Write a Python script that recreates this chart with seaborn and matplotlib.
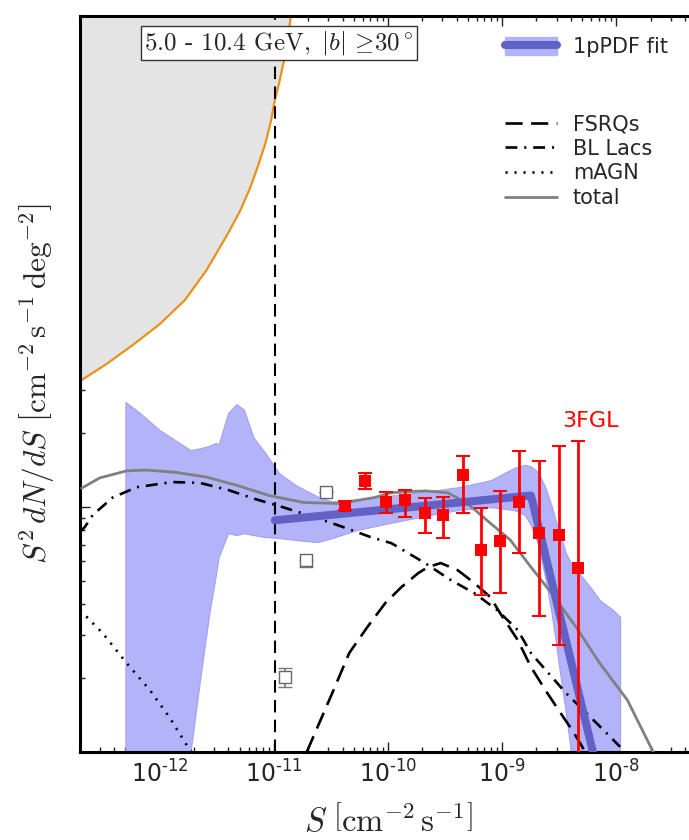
import numpy as np
import pandas as pd
import matplotlib
matplotlib.use("Agg")
import matplotlib.pyplot as plt
import seaborn as sns
from matplotlib.lines import Line2D
from matplotlib.patches import Patch
from matplotlib.ticker import FixedLocator, FixedFormatter, NullFormatter, LogLocator

# ---------------- data ----------------
excl_S = [2.0e-13, 3.40e-13, 5.8e-13, 1.0e-12, 1.66e-12, 2.57e-12, 3.96e-12, 5.04e-12, 6.24e-12, 7.26e-12,
          8.43e-12, 9.40e-12, 1.02e-11, 1.11e-11, 1.19e-11, 1.26e-11, 1.32e-11, 1.41e-11]
excl_y = [3.25e-11, 3.81e-11, 4.56e-11, 5.55e-11, 6.95e-11, 9.21e-11, 1.30e-10, 1.60e-10, 2.01e-10, 2.45e-10,
          3.03e-10, 3.71e-10, 4.55e-10, 5.32e-10, 6.19e-10, 6.93e-10, 7.76e-10, 1.01e-9]

threshold_S = 1.02e-11

band_S = [5.0e-13, 6.7e-13, 1.0e-12, 1.86e-12, 2.25e-12, 2.72e-12, 3.1e-12, 3.28e-12, 3.97e-12, 4.70e-12,
          5.47e-12, 6.60e-12, 8.44e-12, 1.11e-11, 1.57e-11, 2.41e-11, 3.25e-11, 5.32e-11, 1.07e-10, 2.11e-10,
          4.08e-10, 7.87e-10, 1.28e-9, 1.58e-9, 1.79e-9, 2.07e-9, 2.39e-9, 2.71e-9, 2.94e-9, 3.13e-9,
          3.62e-9, 4.01e-9, 4.74e-9, 6.21e-9, 7.17e-9, 9.40e-9, 1.08e-8]
band_hi = [2.67e-11, 2.41e-11, 2.05e-11, 1.70e-11, 1.73e-11, 1.77e-11, 1.82e-11, 1.79e-11, 2.41e-11, 2.62e-11,
           2.48e-11, 1.92e-11, 1.65e-11, 1.37e-11, 1.22e-11, 1.10e-11, 1.05e-11, 1.07e-11, 1.11e-11, 1.15e-11,
           1.20e-11, 1.28e-11, 1.44e-11, 1.48e-11, 1.46e-11, 1.38e-11, 1.20e-11, 1.01e-11, 8.82e-12, 8.03e-12,
           6.47e-12, 5.89e-12, 5.36e-12, 4.57e-12, 4.16e-12, 3.79e-12, 3.55e-12]
band_lo = [5e-13, 5e-13, 5e-13, 1.0e-12, 1.96e-12, 3.68e-12, 5.26e-12, 6.23e-12, 7.80e-12, 7.66e-12,
           7.80e-12, 7.66e-12, 7.52e-12, 7.45e-12, 7.31e-12, 7.17e-12, 7.45e-12, 8.03e-12, 8.6e-12, 9.16e-12,
           9.69e-12, 9.96e-12, 9.69e-12, 9.24e-12, 8.41e-12, 6.98e-12, 5.12e-12, 3.68e-12, 2.86e-12, 2.30e-12,
           1.44e-12, 1.0e-12, 5e-13, 5e-13, 5e-13, 5e-13, 5e-13]

fit_S = [1.02e-11, 1.79e-9, 6.6e-9]
fit_y = [8.8e-12, 1.11e-11, 9.0e-13]

total_S = [2.07e-13, 2.98e-13, 5.14e-13, 7.69e-13, 1.38e-12, 2.57e-12, 4.79e-12, 9.10e-12, 1.82e-11, 3.69e-11,
           7.65e-11, 1.07e-10, 2.11e-10, 3.34e-10, 4.98e-10, 7.87e-10, 1.18e-9, 1.79e-9, 2.71e-9, 4.45e-9,
           7.17e-9, 1.25e-8, 2.11e-8]
total_y = [1.19e-11, 1.31e-11, 1.40e-11, 1.41e-11, 1.38e-11, 1.32e-11, 1.22e-11, 1.11e-11, 1.04e-11, 1.03e-11,
           1.09e-11, 1.14e-11, 1.16e-11, 1.14e-11, 1.03e-11, 8.57e-12, 7.31e-12, 5.67e-12, 4.44e-12, 3.23e-12,
           2.30e-12, 1.63e-12, 1.0e-12]

bllac_S = [2.0e-13, 2.20e-13, 2.58e-13, 3.87e-13, 6.28e-13, 1.28e-12, 2.25e-12, 3.97e-12, 6.60e-12, 1.19e-11,
           2.26e-11, 4.29e-11, 7.02e-11, 1.07e-10, 2.11e-10, 3.55e-10, 5.72e-10, 9.05e-10, 1.37e-9, 1.79e-9,
           2.54e-9, 3.62e-9, 5.48e-9, 8.30e-9, 1.08e-8]
bllac_y = [7.9e-12, 8.25e-12, 9.24e-12, 1.09e-11, 1.20e-11, 1.26e-11, 1.25e-11, 1.17e-11, 1.08e-11, 9.96e-12,
           9.07e-12, 8.18e-12, 7.52e-12, 7.10e-12, 5.89e-12, 5.02e-12, 4.44e-12, 3.79e-12, 3.14e-12, 2.53e-12,
           2.10e-12, 1.74e-12, 1.44e-12, 1.19e-12, 1.05e-12]

fsrq_S = [1.94e-11, 3.25e-11, 4.57e-11, 6.59e-11, 9.48e-11, 1.31e-10, 1.84e-10, 2.24e-10, 2.90e-10, 4.08e-10,
          5.72e-10, 7.87e-10, 9.61e-10, 1.37e-9, 1.79e-9, 2.39e-9, 3.13e-9, 4.10e-9, 5.04e-9, 5.6e-9]
fsrq_y = [1.0e-12, 1.74e-12, 2.53e-12, 3.23e-12, 4.05e-12, 4.70e-12, 5.36e-12, 5.67e-12, 5.89e-12, 5.51e-12,
          4.88e-12, 4.28e-12, 3.68e-12, 2.86e-12, 2.22e-12, 1.79e-12, 1.48e-12, 1.23e-12, 1.05e-12, 9.5e-13]

magn_S = [2.0e-13, 3.16e-13, 5.14e-13, 8.17e-13, 1.21e-12, 1.76e-12, 1.9e-12]
magn_y = [3.79e-12, 3.05e-12, 2.30e-12, 1.79e-12, 1.39e-12, 1.05e-12, 1.0e-12]

fgl_S = [4.20e-11, 6.31e-11, 9.68e-11, 1.42e-10, 2.11e-10, 3.02e-10, 4.50e-10, 6.58e-10, 9.61e-10,
         1.42e-9, 2.11e-9, 3.13e-9, 4.64e-9]
fgl_y = [1.01e-11, 1.27e-11, 1.04e-11, 1.06e-11, 9.42e-12, 9.24e-12, 1.35e-11, 6.65e-12, 7.24e-12,
         1.04e-11, 7.80e-12, 7.66e-12, 5.62e-12]
fgl_hi = [1.05e-11, 1.37e-11, 1.15e-11, 1.17e-11, 1.08e-11, 1.10e-11, 1.61e-11, 9.87e-12, 1.16e-11,
          1.69e-11, 1.53e-11, 1.77e-11, 1.85e-11]
fgl_lo = [9.7e-12, 1.18e-11, 9.42e-12, 9.07e-12, 7.80e-12, 7.45e-12, 9.42e-12, 4.36e-12, 4.44e-12,
          6.47e-12, 3.58e-12, 2.73e-12, 5e-13]

open_S = [1.24e-11, 1.90e-11, 2.86e-11]
open_y = [2.02e-12, 6.06e-12, 1.15e-11]
open_hi = [2.20e-12, 6.06e-12, 1.15e-11]
open_lo = [1.84e-12, 5.70e-12, 1.15e-11]

xtick_values = [1e-12, 1e-11, 1e-10, 1e-9, 1e-8]
xtick_labels = [r'$10^{\text{-12}}$', r'$10^{\text{-11}}$', r'$10^{\text{-10}}$', r'$10^{\text{-9}}$', r'$10^{\text{-8}}$']

legend_fit = "1pPDF fit"
legend_lines = ["FSRQs", "BL Lacs", "mAGN", "total"]
label_3fgl = "3FGL"
box_text = r'$\text{5.0 - 10.4 GeV},\ |b|\,\geq\!30^\circ$'

# ---------------- style ----------------
sns.set_style("ticks")
plt.rcParams['font.family'] = ['DejaVu Sans']
plt.rcParams['mathtext.fontset'] = 'dejavusans'

band_color = '#b3b3fa'
fit_color = '#6262c6'
excl_face = '#e4e4e4'
excl_edge = '#e8921a'

fig = plt.figure(figsize=(6.89, 8.4), dpi=100)
W, H = 689.0, 840.0
ax = fig.add_axes([80 / W, 1 - 752 / H, 616 / W, 736 / H])
ax.set_xscale('log')
ax.set_yscale('log')
ax.set_xlim(2e-13, 5e-8)
ax.set_ylim(1e-12, 1e-9)

# excluded grey region
ax.fill_between(excl_S, excl_y, [2e-9] * len(excl_S), color=excl_face, lw=0, zorder=1)
sns.lineplot(x=excl_S, y=excl_y, ax=ax, color=excl_edge, lw=1.6, estimator=None, sort=False, zorder=2)

# 1pPDF band
ax.fill_between(band_S, band_lo, band_hi, color=band_color, lw=0.8, edgecolor='#a0a0f6', zorder=2)

# threshold
ax.axvline(threshold_S, color='black', lw=1.5, linestyle=(0, (6, 3.5)), zorder=3)

# model curves
sns.lineplot(x=magn_S, y=magn_y, ax=ax, color='black', lw=1.9, linestyle=(0, (0.8, 2.6)),
             estimator=None, sort=False, zorder=3)
sns.lineplot(x=fsrq_S, y=fsrq_y, ax=ax, color='black', lw=1.9, linestyle=(0, (6.5, 3.2)),
             estimator=None, sort=False, zorder=3)
sns.lineplot(x=bllac_S, y=bllac_y, ax=ax, color='black', lw=1.9, linestyle=(0, (4.5, 2.6, 0.8, 2.6)),
             estimator=None, sort=False, zorder=3)
sns.lineplot(x=total_S, y=total_y, ax=ax, color='#808080', lw=2.0, estimator=None, sort=False, zorder=4)

# 1pPDF best fit broken power law
sns.lineplot(x=fit_S, y=fit_y, ax=ax, color=fit_color, lw=5.8, estimator=None, sort=False, zorder=5)

# open squares
oy = np.array(open_y)
ax.errorbar(open_S, open_y, yerr=[oy - np.array(open_lo), np.array(open_hi) - oy], fmt='none',
            ecolor='#777777', elinewidth=1.2, capsize=5, capthick=1.0, zorder=6)
sns.scatterplot(x=open_S, y=open_y, ax=ax, marker='s', s=70, facecolor='white', edgecolor='#666666',
                linewidth=1.0, zorder=7)

# 3FGL
fy = np.array(fgl_y)
ax.errorbar(fgl_S, fgl_y, yerr=[fy - np.array(fgl_lo), np.array(fgl_hi) - fy], fmt='none',
            ecolor='red', elinewidth=2.0, capsize=5, capthick=1.5, zorder=6)
sns.scatterplot(x=fgl_S, y=fgl_y, ax=ax, marker='s', s=75, color='red', edgecolor='red',
                linewidth=0, zorder=7)
ax.text(0.8295, 0.4497, label_3fgl, transform=ax.transAxes, color='red', fontsize=16,
        ha='center', va='center', zorder=8)

# label box
ax.text(0.323, 0.963, box_text, transform=ax.transAxes, ha='center', va='center', fontsize=18,
        math_fontfamily='cm', zorder=10,
        bbox=dict(boxstyle='square,pad=0.12', fc='white', ec='#333333', lw=1.0))

# axes styling
ax.xaxis.set_major_locator(FixedLocator(xtick_values))
ax.xaxis.set_major_formatter(FixedFormatter(xtick_labels))
ax.xaxis.set_minor_locator(LogLocator(base=10, subs=np.arange(2, 10), numticks=20))
ax.xaxis.set_minor_formatter(NullFormatter())
ax.yaxis.set_major_formatter(NullFormatter())
ax.yaxis.set_minor_formatter(NullFormatter())
ax.tick_params(which='both', direction='in', top=True, right=False, width=1.0, color='#222222')
ax.tick_params(which='major', length=7, labelsize=17, pad=6)
ax.tick_params(which='minor', length=3.5)
for sp in ax.spines.values():
    sp.set_linewidth(2.2)
    sp.set_color('black')

ax.set_xlabel(r'$S\ \left[\mathrm{cm}^{-2}\,\mathrm{s}^{-1}\right]$', fontsize=23.5, math_fontfamily='cm',
              labelpad=12)
ax.set_ylabel(r'$S^2\,dN/dS\ \left[\mathrm{cm}^{-2}\,\mathrm{s}^{-1}\,\mathrm{deg}^{-2}\right]$', fontsize=22.5,
              math_fontfamily='cm', labelpad=11)

# legends
h_fit = (Patch(facecolor=band_color, edgecolor=band_color), Line2D([], [], color=fit_color, lw=5.8))
leg1 = ax.legend([h_fit], [legend_fit], loc='center left', bbox_to_anchor=(0.690, 0.958),
                 frameon=False, fontsize=15, borderpad=0, borderaxespad=0, handlelength=2.5,
                 handleheight=0.95, handletextpad=0.75)
ax.add_artist(leg1)
hl = [Line2D([], [], color='black', lw=1.9, linestyle=(0, (6.5, 3.2))),
      Line2D([], [], color='black', lw=1.9, linestyle=(0, (4.5, 2.6, 0.8, 2.6))),
      Line2D([], [], color='black', lw=1.9, linestyle=(0, (0.8, 2.6))),
      Line2D([], [], color='#808080', lw=2.0)]
leg2 = ax.legend(hl, legend_lines, loc='upper left', bbox_to_anchor=(0.690, 0.8666), frameon=False,
                 fontsize=15, borderpad=0, borderaxespad=0, handlelength=2.5, handletextpad=0.75,
                 labelspacing=0.22)

fig.savefig('out.png', dpi=100)
